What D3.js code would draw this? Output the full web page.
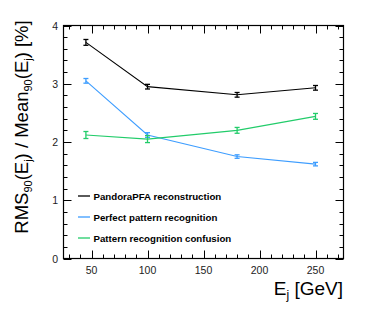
<!DOCTYPE html>
<html><head><meta charset="utf-8">
<script src="https://cdn.jsdelivr.net/npm/d3@7"></script>
<style>body{margin:0;background:#fff}svg{display:block}</style>
</head><body>
<svg id="c" width="374" height="316"></svg>
<script>
const energies = [45, 100, 180, 250];
const seriesNames = ["PandoraPFA reconstruction", "Perfect pattern recognition", "Pattern recognition confusion"];
const pandoraVals = [3.71, 2.95, 2.81, 2.93];
const pandoraErr = [0.05, 0.04, 0.04, 0.04];
const perfectVals = [3.05, 2.12, 1.75, 1.62];
const perfectErr = [0.04, 0.04, 0.03, 0.03];
const confusionVals = [2.12, 2.05, 2.20, 2.44];
const confusionErr = [0.06, 0.06, 0.05, 0.05];
const xTicks = [50, 100, 150, 200, 250];
const yTicks = [0, 1, 2, 3, 4];

const colors = ["#000000", "#3d9dff", "#22cc6a"];
const series = [
  {name: seriesNames[0], vals: pandoraVals, err: pandoraErr, color: colors[0]},
  {name: seriesNames[1], vals: perfectVals, err: perfectErr, color: colors[1]},
  {name: seriesNames[2], vals: confusionVals, err: confusionErr, color: colors[2]}
];

const svg = d3.select("#c");
const L = 63.5, R = 343.5, T = 25.5, B = 258.5;
const x = d3.scaleLinear().domain([25, 275]).range([L, R]);
const y = d3.scaleLinear().domain([0, 4]).range([B, T]);
const font = "'Liberation Sans', Arial, Helvetica, sans-serif";

// ticks
const g = svg.append("g").attr("stroke", "#000").attr("stroke-width", 1);
const xMinor = d3.range(30, 275, 10);
xMinor.forEach(v => {
  const major = v % 50 === 0;
  const len = major ? 8 : 4;
  const px = Math.round(x(v)) + 0.5;
  g.append("line").attr("x1", px).attr("x2", px).attr("y1", B).attr("y2", B - len);
  g.append("line").attr("x1", px).attr("x2", px).attr("y1", T).attr("y2", T + len);
});
const yMinor = d3.range(0, 4.0001, 0.2);
yMinor.forEach(v => {
  const major = Math.abs(v - Math.round(v)) < 1e-6;
  const len = major ? 8 : 4;
  const py = Math.round(y(v)) + 0.5;
  g.append("line").attr("y1", py).attr("y2", py).attr("x1", L).attr("x2", L + len);
  g.append("line").attr("y1", py).attr("y2", py).attr("x1", R).attr("x2", R - len);
});
svg.append("rect").attr("x", L).attr("y", T).attr("width", R - L).attr("height", B - T)
  .attr("fill", "none").attr("stroke", "#000").attr("stroke-width", 1.2);

// tick labels
svg.append("g").selectAll("text").data(xTicks).join("text")
  .attr("x", d => x(d)).attr("y", 274).attr("text-anchor", "middle")
  .attr("font-family", font).attr("font-size", 10.5).attr("fill", "#222").text(d => d);
svg.append("g").selectAll("text").data(yTicks).join("text")
  .attr("x", 58).attr("y", d => y(d) + 4).attr("text-anchor", "end")
  .attr("font-family", font).attr("font-size", 10.5).attr("fill", "#222").text(d => d);

// series
const line = d3.line().x(d => x(d[0])).y(d => y(d[1]));
series.forEach(s => {
  const pts = energies.map((e, i) => [e, s.vals[i], s.err[i]]);
  svg.append("path").attr("d", line(pts)).attr("fill", "none")
    .attr("stroke", s.color).attr("stroke-width", 1.1);
  const eg = svg.append("g").attr("stroke", s.color).attr("stroke-width", 1.3);
  pts.forEach(p => {
    const cx = x(p[0]);
    eg.append("line").attr("x1", cx).attr("x2", cx).attr("y1", y(p[1] - p[2])).attr("y2", y(p[1] + p[2]));
    eg.append("line").attr("x1", cx - 2.5).attr("x2", cx + 2.5).attr("y1", y(p[1] - p[2])).attr("y2", y(p[1] - p[2]));
    eg.append("line").attr("x1", cx - 2.5).attr("x2", cx + 2.5).attr("y1", y(p[1] + p[2])).attr("y2", y(p[1] + p[2]));
  });
});

// legend
const legY = [196, 217, 238];
series.forEach((s, i) => {
  svg.append("line").attr("x1", 78).attr("x2", 90).attr("y1", legY[i]).attr("y2", legY[i])
    .attr("stroke", s.color).attr("stroke-width", 1.3);
  svg.append("text").attr("x", 93.5).attr("y", legY[i] + 3.5)
    .attr("font-family", font).attr("font-weight", "bold").attr("font-size", 9.7)
    .attr("fill", "#000").text(s.name);
});

// axis titles
const xt = svg.append("text").attr("x", 343).attr("y", 295).attr("text-anchor", "end")
  .attr("font-family", font).attr("font-size", 19).attr("fill", "#000");
xt.append("tspan").text("E");
xt.append("tspan").attr("font-size", 12).attr("dy", 4).text("j");
xt.append("tspan").attr("dy", -4).text(" [GeV]");

const yt = svg.append("text").attr("transform", "translate(28,127) rotate(-90)")
  .attr("text-anchor", "middle").attr("font-family", font).attr("font-size", 18.5).attr("fill", "#000");
yt.append("tspan").text("RMS");
yt.append("tspan").attr("font-size", 11).attr("dy", 4).text("90");
yt.append("tspan").attr("dy", -4).text("(E");
yt.append("tspan").attr("font-size", 11).attr("dy", 4).text("j");
yt.append("tspan").attr("dy", -4).text(") / Mean");
yt.append("tspan").attr("font-size", 11).attr("dy", 4).text("90");
yt.append("tspan").attr("dy", -4).text("(E");
yt.append("tspan").attr("font-size", 11).attr("dy", 4).text("j");
yt.append("tspan").attr("dy", -4).text(") [%]");
</script>
</body></html>
